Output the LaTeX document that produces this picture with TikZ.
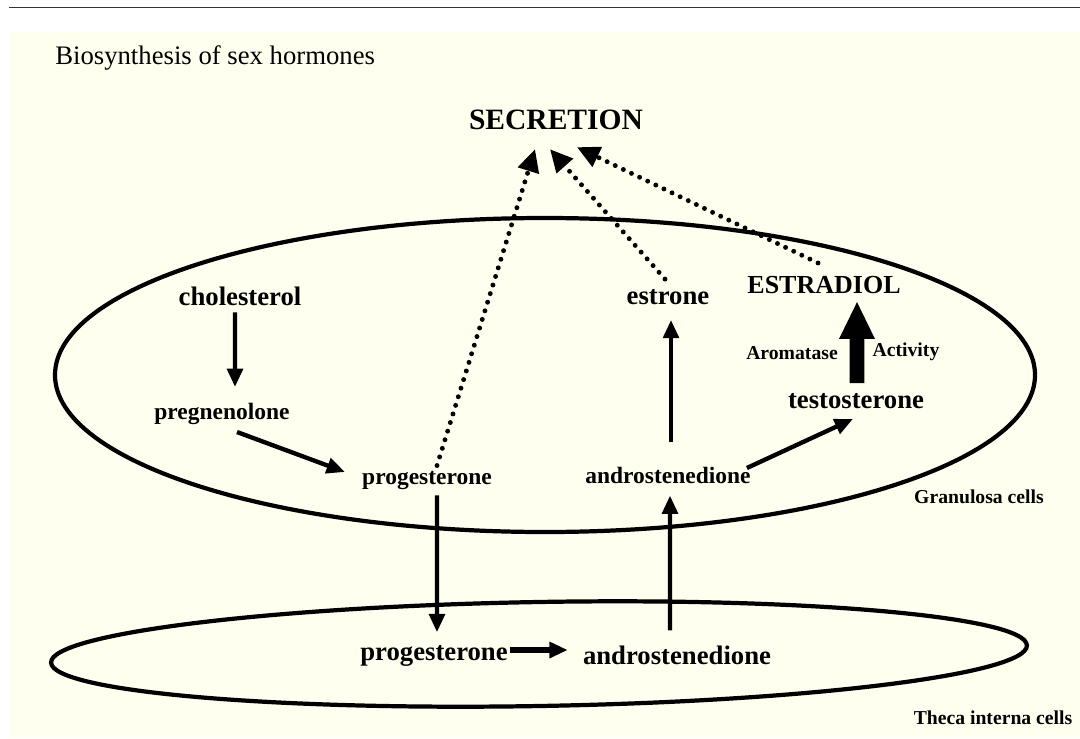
\documentclass[tikz,border=0pt]{standalone}
\usepackage{fontspec}
\setmainfont{Liberation Serif}
\usepackage{tikz}
\usetikzlibrary{arrows.meta}
\definecolor{paper}{RGB}{255,255,240}
\tikzset{
  mol/.style={font=\bfseries\fontsize{16.7}{19}\selectfont, inner sep=0pt},
  bigmol/.style={font=\bfseries\fontsize{19}{22}\selectfont, inner sep=0pt},
  celltag/.style={font=\bfseries\fontsize{14}{16}\selectfont, inner sep=0pt},
  react/.style={-{Triangle[length=13pt,width=11pt]}, line width=3.1pt},
  release/.style={-{Triangle[length=16pt,width=15pt]}, line width=3.5pt, line cap=round, dash pattern=on 0pt off 6.4pt},
  cellwall/.style={line width=3pt}
}

\begin{document}
\begin{tikzpicture}
\useasboundingbox (0cm,0cm) rectangle (27cm,-18.45cm);
\fill[paper] (0.225cm,-0.8cm) rectangle (27cm,-18.45cm);
\draw[line width=1.2pt, black!80] (0.225cm,-0.19cm) -- (27cm,-0.19cm);
\node[anchor=base west, inner sep=0pt, font=\fontsize{19}{22}\selectfont] (title) at (1.375cm,-1.625cm) {Biosynthesis of sex hormones};

\draw[cellwall] (13.625cm,-9.375cm) ellipse [x radius=12.25cm, y radius=3.925cm];
\draw[cellwall, rotate around={1:(13.475cm,-16.35cm)}] (13.475cm,-16.35cm) ellipse [x radius=12.2cm, y radius=1.3cm];

\node[font=\bfseries\fontsize{21}{24}\selectfont, inner sep=0pt] (secr) at (13.9cm,-3.0cm) {SECRETION};
\node[bigmol] (chol) at (6.0cm,-7.4cm) {cholesterol};
\node[mol] (preg) at (5.55cm,-10.35cm) {pregnenolone};
\node[mol] (progA) at (10.675cm,-12.0cm) {progesterone};
\node[mol] (androA) at (16.7cm,-11.875cm) {androstenedione};
\node[bigmol] (estrone) at (16.7cm,-7.425cm) {estrone};
\node[font=\bfseries\fontsize{18.5}{22}\selectfont, inner sep=0pt] (estradiol) at (20.6cm,-7.125cm) {ESTRADIOL};
\node[bigmol] (testo) at (21.4cm,-10.025cm) {testosterone};
\node[celltag] (aroma) at (19.8cm,-8.825cm) {Aromatase};
\node[celltag] (activ) at (22.65cm,-8.8cm) {Activity};
\node[celltag] (gran) at (24.475cm,-12.425cm) {Granulosa cells};
\node[bigmol] (progB) at (10.85cm,-16.4cm) {progesterone};
\node[bigmol] (androB) at (16.925cm,-16.375cm) {androstenedione};
\node[celltag] (theca) at (24.825cm,-17.95cm) {Theca interna cells};

\draw[react] ([shift={(-0.125cm,-0.17cm)}]chol.south) -- ([shift={(0.325cm,0.4cm)}]preg.north);
\draw[react] ([shift={(0.375cm,-0.175cm)}]preg.south) -- ([shift={(-0.425cm,0.2cm)}]progA.west);
\draw[react] ([shift={(0.25cm,-0.15cm)}]progA.south) -- ([shift={(0.075cm,0.325cm)}]progB.north);
\draw[react] ([shift={(-0.175cm,0.375cm)}]androB.north) -- ([shift={(0.05cm,-0.3cm)}]androA.south);
\draw[react, line width=4pt] ([shift={(0.05cm,0.15cm)}]progB.east) -- ([shift={(-0.375cm,0.125cm)}]androB.west);
\draw[react] ([shift={(0.075cm,0.6cm)}]androA.north) -- ([shift={(0.075cm,-0.375cm)}]estrone.south);
\draw[react] ([shift={(-0.1cm,0.175cm)}]androA.east) -- ([shift={(-0.075cm,-0.25cm)}]testo.south);
\draw[-{Triangle[length=27pt,width=23.4pt]}, line width=10.5pt] ([shift={(0.025cm,0.25cm)}]testo.north) -- ([shift={(0.825cm,-0.175cm)}]estradiol.south);

\draw[release] ([shift={(0.25cm,0.125cm)}]progA.north) -- ([shift={(-0.525cm,-0.475cm)}]secr.south);
\draw[release] ([shift={(-0.075cm,0.25cm)}]estrone.north) -- ([shift={(-0.15cm,-0.475cm)}]secr.south);
\draw[release] ([shift={(-0.15cm,0.325cm)}]estradiol.north) -- ([shift={(0.525cm,-0.425cm)}]secr.south);
\end{tikzpicture}
\end{document}
